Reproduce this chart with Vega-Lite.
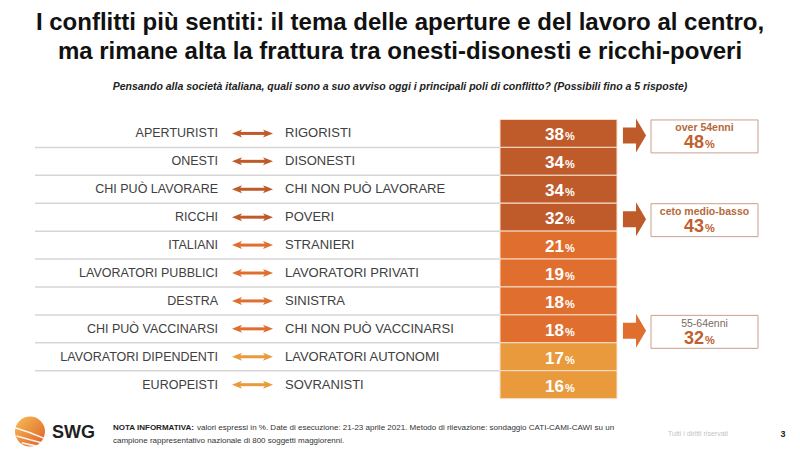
{
  "$schema": "https://vega.github.io/schema/vega-lite/v6.json",
  "width": 800,
  "height": 452,
  "autosize": {"type": "fit", "contains": "padding"},
  "padding": {"top": 10, "left": 0, "right": 0, "bottom": 0},
  "background": "white",
  "title": {
    "text": ["I conflitti più sentiti: il tema delle aperture e del lavoro al centro,", "ma rimane alta la frattura tra onesti-disonesti e ricchi-poveri"],
    "subtitle": "Pensando alla società italiana, quali sono a suo avviso oggi i principali poli di conflitto? (Possibili fino a 5 risposte)",
    "anchor": "middle",
    "font": "Liberation Sans",
    "fontSize": 24,
    "fontWeight": "bold",
    "color": "#111111",
    "lineHeight": 29,
    "subtitleFont": "Liberation Sans",
    "subtitleFontSize": 10.5,
    "subtitleFontStyle": "italic",
    "subtitleFontWeight": "bold",
    "subtitleColor": "#222222",
    "subtitlePadding": 18,
    "offset": 10
  },
  "config": {
    "view": {"stroke": null},
    "axis": {"disable": true}
  },
  "datasets": {
    "rows": [
      {"rank": 1, "left": "APERTURISTI", "right": "RIGORISTI", "value": 38},
      {"rank": 2, "left": "ONESTI", "right": "DISONESTI", "value": 34},
      {"rank": 3, "left": "CHI PUÒ LAVORARE", "right": "CHI NON PUÒ LAVORARE", "value": 34},
      {"rank": 4, "left": "RICCHI", "right": "POVERI", "value": 32},
      {"rank": 5, "left": "ITALIANI", "right": "STRANIERI", "value": 21},
      {"rank": 6, "left": "LAVORATORI PUBBLICI", "right": "LAVORATORI PRIVATI", "value": 19},
      {"rank": 7, "left": "DESTRA", "right": "SINISTRA", "value": 18},
      {"rank": 8, "left": "CHI PUÒ VACCINARSI", "right": "CHI NON PUÒ VACCINARSI", "value": 18},
      {"rank": 9, "left": "LAVORATORI DIPENDENTI", "right": "LAVORATORI AUTONOMI", "value": 17},
      {"rank": 10, "left": "EUROPEISTI", "right": "SOVRANISTI", "value": 16}
    ],
    "callouts": [
      {"rank": 1, "label": "over 54enni", "callValue": 48},
      {"rank": 4, "label": "ceto medio-basso", "callValue": 43},
      {"rank": 8, "label": "55-64enni", "callValue": 32}
    ]
  },
  "layer": [
    {
      "data": {"name": "rows"},
      "transform": [{"filter": "datum.rank < 10"}],
      "mark": {"type": "rule", "color": "#d6d6d6", "strokeWidth": 1.5, "yOffset": 14},
      "encoding": {
        "x": {"datum": 35, "type": "quantitative", "scale": {"domain": [0, 800], "nice": false, "zero": false}, "axis": null},
        "x2": {"datum": 500},
        "y": {"field": "rank", "type": "quantitative", "scale": {"domain": [0.0536, 12.232], "nice": false, "zero": false, "reverse": true}, "axis": null}
      }
    },
    {
      "data": {"name": "rows"},
      "mark": {"type": "bar", "size": 28, "stroke": "#fae2cf", "strokeWidth": 1},
      "encoding": {
        "x": {"datum": 500, "type": "quantitative"},
        "x2": {"datum": 617},
        "y": {"field": "rank", "type": "quantitative"},
        "color": {"field": "value", "type": "quantitative", "scale": {"type": "threshold", "domain": [17.5, 25], "range": ["#E99A3C", "#E06F2F", "#BF5A2A"]}, "legend": null}
      }
    },
    {
      "data": {"name": "rows"},
      "mark": {"type": "rule", "strokeWidth": 3},
      "encoding": {
        "x": {"datum": 237, "type": "quantitative"},
        "x2": {"datum": 268},
        "y": {"field": "rank", "type": "quantitative"},
        "color": {"field": "value", "type": "quantitative", "scale": {"type": "threshold", "domain": [17.5, 25], "range": ["#E99A3C", "#E06F2F", "#BF5A2A"]}, "legend": null}
      }
    },
    {
      "data": {"name": "rows"},
      "mark": {"type": "point", "filled": true, "opacity": 1, "size": 100, "shape": "M-1,0L1,-0.8L0.5,0L1,0.8Z"},
      "encoding": {
        "x": {"datum": 237, "type": "quantitative"},
        "y": {"field": "rank", "type": "quantitative"},
        "color": {"field": "value", "type": "quantitative", "scale": {"type": "threshold", "domain": [17.5, 25], "range": ["#E99A3C", "#E06F2F", "#BF5A2A"]}, "legend": null}
      }
    },
    {
      "data": {"name": "rows"},
      "mark": {"type": "point", "filled": true, "opacity": 1, "size": 100, "shape": "M1,0L-1,-0.8L-0.5,0L-1,0.8Z"},
      "encoding": {
        "x": {"datum": 268, "type": "quantitative"},
        "y": {"field": "rank", "type": "quantitative"},
        "color": {"field": "value", "type": "quantitative", "scale": {"type": "threshold", "domain": [17.5, 25], "range": ["#E99A3C", "#E06F2F", "#BF5A2A"]}, "legend": null}
      }
    },
    {
      "data": {"name": "rows"},
      "mark": {"type": "text", "align": "right", "baseline": "middle", "font": "Liberation Sans", "fontSize": 12.5, "color": "#404040"},
      "encoding": {
        "x": {"datum": 218, "type": "quantitative"},
        "y": {"field": "rank", "type": "quantitative"},
        "text": {"field": "left"}
      }
    },
    {
      "data": {"name": "rows"},
      "mark": {"type": "text", "align": "left", "baseline": "middle", "font": "Liberation Sans", "fontSize": 13, "color": "#404040"},
      "encoding": {
        "x": {"datum": 285, "type": "quantitative"},
        "y": {"field": "rank", "type": "quantitative"},
        "text": {"field": "right"}
      }
    },
    {
      "data": {"name": "rows"},
      "mark": {"type": "text", "align": "right", "baseline": "alphabetic", "font": "Liberation Sans", "fontSize": 17, "fontWeight": "bold", "color": "white", "yOffset": 7},
      "encoding": {
        "x": {"datum": 564, "type": "quantitative"},
        "y": {"field": "rank", "type": "quantitative"},
        "text": {"field": "value"}
      }
    },
    {
      "data": {"name": "rows"},
      "mark": {"type": "text", "align": "left", "baseline": "alphabetic", "font": "Liberation Sans", "fontSize": 11, "fontWeight": "bold", "color": "white", "yOffset": 7},
      "encoding": {
        "x": {"datum": 565, "type": "quantitative"},
        "y": {"field": "rank", "type": "quantitative"},
        "text": {"value": "%"}
      }
    },
    {
      "data": {"name": "callouts"},
      "transform": [{"lookup": "rank", "from": {"data": {"name": "rows"}, "key": "rank", "fields": ["value"]}}],
      "mark": {"type": "point", "filled": true, "opacity": 1, "size": 1156, "shape": "M-0.68,-0.47L0.09,-0.47L0.09,-1L0.68,0L0.09,1L0.09,0.47L-0.68,0.47Z", "yOffset": 2},
      "encoding": {
        "x": {"datum": 634.5, "type": "quantitative"},
        "y": {"field": "rank", "type": "quantitative"},
        "color": {"field": "value", "type": "quantitative", "scale": {"type": "threshold", "domain": [17.5, 25], "range": ["#E99A3C", "#E06F2F", "#BF5A2A"]}, "legend": null}
      }
    },
    {
      "data": {"name": "callouts"},
      "mark": {"type": "point", "filled": false, "fill": "white", "stroke": "#C9A08E", "strokeWidth": 1, "opacity": 1, "size": 11449, "shape": "M-1,-0.308L1,-0.308L1,0.308L-1,0.308Z", "yOffset": 3},
      "encoding": {
        "x": {"datum": 704.5, "type": "quantitative"},
        "y": {"field": "rank", "type": "quantitative"}
      }
    },
    {
      "data": {"name": "callouts"},
      "transform": [{"filter": "datum.rank < 8"}],
      "mark": {"type": "text", "align": "center", "baseline": "middle", "font": "Liberation Sans", "fontSize": 10.5, "fontWeight": "bold", "color": "#B5693A", "yOffset": -5},
      "encoding": {
        "x": {"datum": 704.5, "type": "quantitative"},
        "y": {"field": "rank", "type": "quantitative"},
        "text": {"field": "label"}
      }
    },
    {
      "data": {"name": "callouts"},
      "transform": [{"filter": "datum.rank >= 8"}],
      "mark": {"type": "text", "align": "center", "baseline": "middle", "font": "Liberation Sans", "fontSize": 10.5, "color": "#7A6A62", "yOffset": -5},
      "encoding": {
        "x": {"datum": 704.5, "type": "quantitative"},
        "y": {"field": "rank", "type": "quantitative"},
        "text": {"field": "label"}
      }
    },
    {
      "data": {"name": "callouts"},
      "mark": {"type": "text", "align": "right", "baseline": "alphabetic", "font": "Liberation Sans", "fontSize": 18, "fontWeight": "bold", "color": "#C0602E", "yOffset": 15},
      "encoding": {
        "x": {"datum": 704, "type": "quantitative"},
        "y": {"field": "rank", "type": "quantitative"},
        "text": {"field": "callValue"}
      }
    },
    {
      "data": {"name": "callouts"},
      "mark": {"type": "text", "align": "left", "baseline": "alphabetic", "font": "Liberation Sans", "fontSize": 11, "fontWeight": "bold", "color": "#C0602E", "yOffset": 15},
      "encoding": {
        "x": {"datum": 705, "type": "quantitative"},
        "y": {"field": "rank", "type": "quantitative"},
        "text": {"value": "%"}
      }
    },
    {
      "data": {"values": [{"logo": "SWG"}]},
      "mark": {"type": "point", "filled": true, "opacity": 1, "size": 900, "shape": "circle", "fill": {"gradient": "linear", "x1": 0, "y1": 0, "x2": 1, "y2": 1, "stops": [{"offset": 0, "color": "#F8BE55"}, {"offset": 1, "color": "#DD5F28"}]}},
      "encoding": {
        "x": {"datum": 30, "type": "quantitative"},
        "y": {"datum": 11.68, "type": "quantitative"}
      }
    },
    {
      "data": {"values": [{"logo": "SWG"}]},
      "mark": {"type": "point", "filled": false, "opacity": 0.9, "size": 900, "stroke": "white", "strokeWidth": 1.5, "shape": "M-1,-0.25Q0,0.05 0.95,0.45M-0.9,0.3Q0,0.55 0.75,0.75M-0.55,0.75Q0,0.9 0.4,0.95"},
      "encoding": {
        "x": {"datum": 30, "type": "quantitative"},
        "y": {"datum": 11.68, "type": "quantitative"}
      }
    },
    {
      "data": {"values": [{"t": "SWG"}]},
      "mark": {"type": "text", "align": "left", "baseline": "middle", "font": "Liberation Sans", "fontSize": 18, "fontWeight": "bold", "color": "#1f1f1f"},
      "encoding": {
        "x": {"datum": 52, "type": "quantitative"},
        "y": {"datum": 11.714, "type": "quantitative"},
        "text": {"field": "t"}
      }
    },
    {
      "data": {"values": [{"t": "NOTA INFORMATIVA:"}]},
      "mark": {"type": "text", "align": "left", "baseline": "middle", "font": "Liberation Sans", "fontSize": 8, "fontWeight": "bold", "color": "#222222"},
      "encoding": {
        "x": {"datum": 113, "type": "quantitative"},
        "y": {"datum": 11.536, "type": "quantitative"},
        "text": {"field": "t"}
      }
    },
    {
      "data": {"values": [{"t": "valori espressi in %. Date di esecuzione: 21-23 aprile 2021. Metodo di rilevazione: sondaggio CATI-CAMI-CAWI su un"}]},
      "mark": {"type": "text", "align": "left", "baseline": "middle", "font": "Liberation Sans", "fontSize": 8, "color": "#333333"},
      "encoding": {
        "x": {"datum": 197, "type": "quantitative"},
        "y": {"datum": 11.536, "type": "quantitative"},
        "text": {"field": "t"}
      }
    },
    {
      "data": {"values": [{"t": "campione rappresentativo nazionale di 800 soggetti maggiorenni."}]},
      "mark": {"type": "text", "align": "left", "baseline": "middle", "font": "Liberation Sans", "fontSize": 8, "color": "#333333"},
      "encoding": {
        "x": {"datum": 113, "type": "quantitative"},
        "y": {"datum": 12.0, "type": "quantitative"},
        "text": {"field": "t"}
      }
    },
    {
      "data": {"values": [{"t": "Tutti i diritti riservati"}]},
      "mark": {"type": "text", "align": "left", "baseline": "middle", "font": "Liberation Sans", "fontSize": 7, "color": "#c4c4c4"},
      "encoding": {
        "x": {"datum": 668, "type": "quantitative"},
        "y": {"datum": 11.75, "type": "quantitative"},
        "text": {"field": "t"}
      }
    },
    {
      "data": {"values": [{"t": "3"}]},
      "mark": {"type": "text", "align": "center", "baseline": "middle", "font": "Liberation Sans", "fontSize": 9, "fontWeight": "bold", "color": "#222222"},
      "encoding": {
        "x": {"datum": 783, "type": "quantitative"},
        "y": {"datum": 11.75, "type": "quantitative"},
        "text": {"field": "t"}
      }
    }
  ]
}
